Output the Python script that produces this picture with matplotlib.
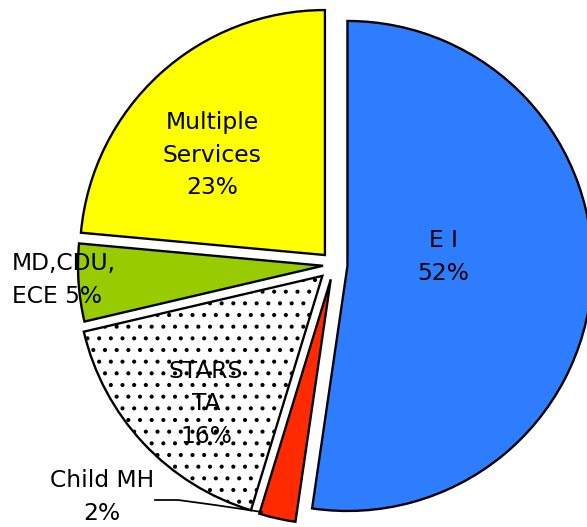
import matplotlib
matplotlib.use("Agg")
import matplotlib.pyplot as plt

# slice shares and their printed labels
names = ["E I", "Child MH", "STARS\nTA", "MD,CDU,\nECE", "Multiple\nServices"]
shares = [52.2, 2.4, 16.6, 5.1, 23.5]
pct_labels = ["52%", "2%", "16%", "5%", "23%"]
colors = ["#2F7DFF", "#FF2A00", "#FFFFFF", "#99CC00", "#FFFF00"]
explode = [0.055, 0.06, 0.065, 0.045, 0.055]

W, H, DPI = 587, 527, 140
plt.rcParams["hatch.linewidth"] = 0.9
fig = plt.figure(figsize=(W / DPI, H / DPI), dpi=DPI)
ax = fig.add_axes([0, 0, 1, 1])

# pie centre sits at pixel (334, 265), radius 245 px
cx, cy, r = 334, 265, 245

wedges, _ = ax.pie(shares, colors=colors, explode=explode, startangle=90,
                   counterclock=False, radius=1,
                   wedgeprops=dict(edgecolor="black", linewidth=1.2))
wedges[2].set_hatch("..")

ax.set_aspect("auto")
ax.set_xlim(-cx / r, (W - cx) / r)
ax.set_ylim(-(H - cy) / r, cy / r)
ax.axis("off")


def px(x, y):
    return x / W, 1 - y / H


fs = 12
kw = dict(transform=ax.transAxes, fontsize=fs, color="black",
          linespacing=1.55, va="center")
ax.text(*px(443, 257), names[0] + "\n" + pct_labels[0], ha="center", **kw)
ax.text(*px(212, 155), names[4] + "\n" + pct_labels[4], ha="center", **kw)
ax.text(*px(12, 280), "MD,CDU,\nECE " + pct_labels[3], ha="left", **kw)
ax.text(*px(206, 404), names[2] + "\n" + pct_labels[2], ha="center", **kw)
ax.text(*px(102, 497), names[1] + "\n" + pct_labels[1], ha="center", **kw)

# leader line for Child MH
lx = [155, 178, 215, 262]
ly = [500, 500, 505, 512]
pts = [px(a, b) for a, b in zip(lx, ly)]
ax.plot([p[0] for p in pts], [p[1] for p in pts], color="black", lw=0.9,
        transform=ax.transAxes)

fig.savefig("out.png", dpi=DPI)
